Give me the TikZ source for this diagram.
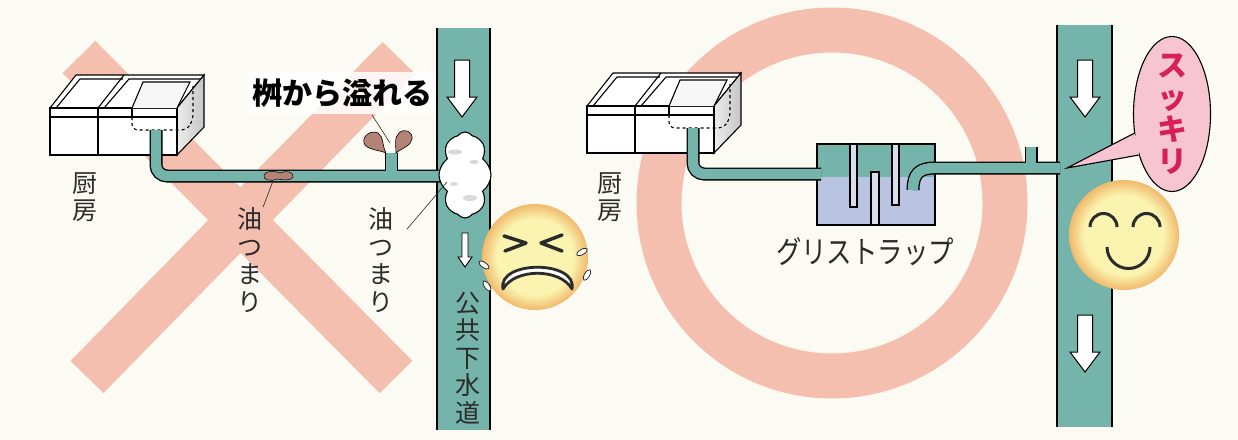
\documentclass[tikz,border=0pt]{standalone}
\usepackage{fontspec}
\newfontfamily\jp{Noto Sans CJK JP}
\newfontfamily\jpnarrow[FakeStretch=0.82]{Noto Sans CJK JP}
\usetikzlibrary{shapes.geometric,shapes.symbols}

\definecolor{paper}{HTML}{FBFAF3}
\definecolor{salmon}{HTML}{F5BFAF}
\definecolor{pipeteal}{HTML}{74B4AA}
\definecolor{trapblue}{HTML}{B9C3E2}
\definecolor{grease}{HTML}{B38476}
\definecolor{bubpink}{HTML}{F6C5D1}
\definecolor{sukkiri}{HTML}{D6205A}
\definecolor{faceyel}{HTML}{FAF4B0}
\definecolor{faceorg}{HTML}{F1B96C}
\definecolor{ink}{HTML}{2B2B2B}

\pgfdeclareradialshading{faceglow}{\pgfpoint{0bp}{0bp}}{color(0bp)=(faceyel); color(18bp)=(faceyel); color(25bp)=(faceorg); color(50bp)=(faceorg)}

\tikzset{
jtext/.style={font=\jp\fontsize{25}{27.5}\selectfont, align=center, inner sep=0pt, text=ink},
leader/.style={draw=ink, line width=0.6pt},
face/.style={circle, minimum size=#1, shading=faceglow, inner sep=0pt},
tear/.style={draw=ink, fill=white, line width=0.8pt},
sewer/.style={fill=pipeteal},
downarr/.pic={\draw[fill=white, line width=1pt] (-7.5,0) -- (7.5,0) -- (7.5,37) -- (15,37) -- (0,57) -- (-15,37) -- (-7.5,37) -- cycle;},
smallarr/.pic={\draw[fill=white, line width=0.9pt] (-3,0) -- (3,0) -- (3,24) -- (7,24) -- (0,34) -- (-7,24) -- (-3,24) -- cycle;},
sink/.pic={
  \draw[fill=white] (0,0) -- (26,-33) -- (154,-33) -- (127,0) -- cycle;
  \draw[left color=gray!15, right color=gray!45] (127,0) -- (154,-33) -- (154,19) -- (127,47) -- cycle;
  \draw[fill=white] (0,0) rectangle (127,47);
  \draw (0,9) -- (127,9) (48,0) -- (48,47) (82,0) -- (82,9);
  \draw (6,0) -- (30,-29) -- (73,-29);
  \draw (48,0) -- (74,-33) (54,0) -- (79,-29) -- (150,-29);
  \draw[fill=gray!6] (82,0) -- (93,-26) -- (140,-26) -- (127,0);
  \draw[dashed, rounded corners=6pt] (82,9) -- (82,22) -- (137,22) -- (143,12) -- (143,-22);
}}

\begin{document}
\begin{tikzpicture}[x=1pt, y=-1pt, line width=1.1pt]
\useasboundingbox (0,0) rectangle (1238,439);
\fill[paper] (0,0) rectangle (1238,439);

% big cross and circle behind everything
\draw[salmon, line width=46pt] (79,57) -- (396,377) (399,58) -- (87,377);
\draw[salmon, line width=45pt] (832,203) circle[radius=173pt];

% public sewers
\fill[sewer] (437,28) rectangle (490,430);
\draw (437,28) -- (437,430) (490,28) -- (490,430);
\fill[sewer] (1057,25) rectangle (1112,427);
\draw (1057,25) -- (1057,162) (1057,174) -- (1057,427) (1112,25) -- (1112,427);
\pic at (462,60) {downarr};
\pic at (465,233) {smallarr};
\pic at (1085,60) {downarr};
\pic at (1085,315) {downarr};

% kitchens
\pic at (50,108) {sink};
\pic at (587,106) {sink};
\node[jtext] (kitchenL) at (85,197) {厨\\房};
\node[jtext] (kitchenR) at (610,197) {厨\\房};

% grease trap
\fill[trapblue] (817,177) rectangle (935,225);
\fill[pipeteal] (817,144) rectangle (935,177);
\draw[fill=trapblue!55!white] (850,144) rectangle (857,207) (871,172) rectangle (879,225) (892,144) rectangle (899,205);
\draw[line width=1.3pt] (817,144) rectangle (935,225);

% drain pipes
\foreach \w/\c in {13pt/black, 10.4pt/pipeteal} {
  \draw[line width=\w, \c, rounded corners=11pt] (156,130) -- (156,176) -- (441,176);
  \draw[line width=\w, \c] (391.5,177) -- (391.5,153);
  \draw[line width=\w, \c, rounded corners=11pt] (693,128) -- (693,174) -- (821,174);
  \draw[line width=\w, \c] (913,190) .. controls (913,174) and (919,168) .. (935,168) -- (1060,168);
  \draw[line width=\w, \c] (1031,169) -- (1031,147);
}

% grease
\draw[fill=grease, line width=0.6pt] (386,153) .. controls (380,150) and (366,150) .. (364,143) .. controls (362,135) and (372,130) .. (378,133) .. controls (384,137) and (382,146) .. (386,153) -- cycle;
\draw[fill=grease, line width=0.6pt] (396,153) .. controls (396,146) and (394,137) .. (399,133) .. controls (404,128) and (413,131) .. (412,139) .. controls (411,146) and (402,148) .. (396,153) -- cycle;
\draw[fill=grease, line width=0.5pt] (264,175) .. controls (266,170) and (276,171) .. (280,173) .. controls (286,170) and (294,172) .. (293,177) .. controls (292,181) and (282,180) .. (277,179) .. controls (272,182) and (262,180) .. (264,175) -- cycle;
\node[cloud, cloud puffs=8, cloud puff arc=110, cloud ignores aspect, draw, fill=white, minimum width=52pt, minimum height=86pt] (clog) at (465,175) {};
\fill[gray!30] (455,152) ellipse (7 and 2.5) (474,162) ellipse (5 and 2) (470,198) ellipse (7 and 3) (454,184) ellipse (4 and 2);

% labels
\node[font=\jp\bfseries\fontsize{30}{30}\selectfont, fill=white, fill opacity=.85, text opacity=1, inner xsep=4pt, inner ysep=7pt] (spill) at (342,93) {桝から溢れる};
\coordinate (spatter) at (390,143);
\draw[leader] ([xshift=30pt]spill.south) -- (spatter);
\node[jtext] (oilL) at (250,260) {油\\つ\\ま\\り};
\node[jtext] (oilR) at (381,260) {油\\つ\\ま\\り};
\coordinate (gunkA) at (273,181);
\coordinate (gunkB) at (447,182);
\draw[leader] (gunkA) -- (oilL.north east);
\draw[leader] (gunkB) -- ([xshift=13pt,yshift=-22pt]oilR.north east);
\node[jtext] (sewerL) at (468,358) {公\\共\\下\\水\\道};
\node[font=\jpnarrow\fontsize{31}{31}\selectfont, text=ink] (trapname) at (865,252) {グリストラップ};

% crying face
\node[face=106pt] (cry) at (535,257) {};
\draw[ink, line width=3.5pt, line cap=round, line join=round] (504,236) -- (526,243) -- (505,251) (562,235) -- (541,243) -- (562,251);
\draw[ink, fill=white, line width=2.8pt, line join=round] (503,289) .. controls (497,260) and (578,260) .. (572,289) .. controls (560,268) and (515,268) .. cycle;
\draw[tear, rotate around={-35:(484,265)}] (484,265) ellipse (6 and 2.6);
\draw[tear, rotate around={-55:(487,286)}] (487,286) ellipse (6 and 2.6);
\draw[tear, rotate around={30:(582,252)}] (582,252) ellipse (6 and 2.6);
\draw[tear, rotate around={60:(587,275)}] (587,275) ellipse (6 and 2.6);

% happy face
\node[face=110pt] (happy) at (1124,235) {};
\draw[ink, line width=3pt] (1090,227) arc[start angle=180, end angle=0, radius=13.5pt];
\draw[ink, line width=3pt] (1133,227) arc[start angle=180, end angle=0, radius=13.5pt];
\draw[ink, line width=3pt] (1107,247) arc[start angle=180, end angle=360, radius=21.5pt];

% speech bubble
\node[ellipse, draw, fill=bubpink, minimum width=77pt, minimum height=155pt, inner sep=0pt] (bubble) at (1172,114) {};
\coordinate (tailtip) at (1067,168);
\fill[bubpink] (bubble.207) -- (tailtip) -- (bubble.231) -- ([xshift=4pt]bubble.219) -- cycle;
\draw (bubble.207) -- (tailtip) -- (bubble.231);
\node[font=\jp\bfseries\fontsize{30}{32}\selectfont, align=center, text=sukkiri, inner sep=0pt] (cheer) at (bubble.center) {ス\\ッ\\キ\\リ};
\end{tikzpicture}
\end{document}
